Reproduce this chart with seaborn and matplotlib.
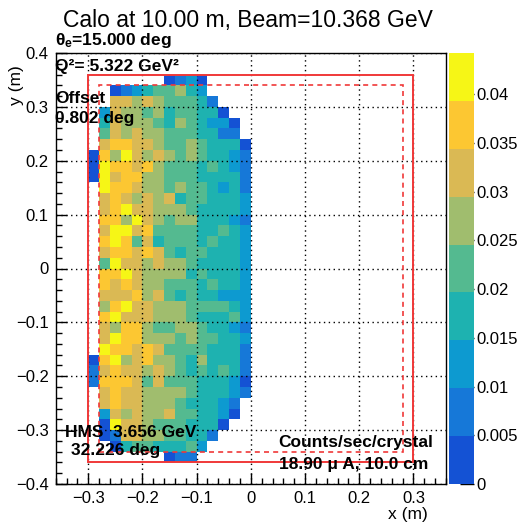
import numpy as np
import pandas as pd
import matplotlib
matplotlib.use("Agg")
import matplotlib.pyplot as plt
from matplotlib.colors import ListedColormap
from matplotlib.patches import Rectangle
from matplotlib.ticker import MultipleLocator
import seaborn as sns

sns.set_style("white")
plt.rcParams['font.family'] = ['Liberation Sans', 'DejaVu Sans']
plt.rcParams['mathtext.fontset'] = 'custom'
plt.rcParams['mathtext.rm'] = 'Liberation Sans'
plt.rcParams['mathtext.bf'] = 'Liberation Sans:bold'
plt.rcParams['mathtext.default'] = 'regular'
plt.rcParams['axes.unicode_minus'] = True
plt.rcParams['text.color'] = 'black'
plt.rcParams['axes.labelcolor'] = 'black'
plt.rcParams['xtick.color'] = 'black'
plt.rcParams['ytick.color'] = 'black'

# ---------------- data ----------------
title = "Calo at 10.00 m, Beam=10.368 GeV"
x_label = "x (m)"
y_label = "y (m)"
x_ticks = [-0.3, -0.2, -0.1, 0.0, 0.1, 0.2, 0.3]
x_tick_labels = ["\u22120.3", "\u22120.2", "\u22120.1", "0", "0.1", "0.2", "0.3"]
y_ticks = [-0.4, -0.3, -0.2, -0.1, 0.0, 0.1, 0.2, 0.3, 0.4]
y_tick_labels = ["\u22120.4", "\u22120.3", "\u22120.2", "\u22120.1", "0", "0.1", "0.2", "0.3", "0.4"]
cbar_ticks = [0, 0.005, 0.01, 0.015, 0.02, 0.025, 0.03, 0.035, 0.04]
cbar_tick_labels = ["0", "0.005", "0.01", "0.015", "0.02", "0.025", "0.03", "0.035", "0.04"]
z_max = 0.04425

# crystal grid: 15 columns (x = -0.29 .. -0.01), 36 rows (y = +0.35 .. -0.35)
n_cols = 15
n_rows = 36
crystal_size = 0.02
x_range = (-0.30, 0.0)
y_range = (-0.36, 0.36)

# rates in units of 1e-3 counts/sec/crystal, row by row from top to bottom
rates_milli = [
    [0, 0, 0, 0, 0, 0, 0, 2.5, 7.4, 12.3, 2.5, 0, 0, 0, 0],
    [0, 0, 2.5, 7.4, 12.3, 17.2, 22.1, 22.1, 27.0, 17.2, 12.3, 0, 0, 0, 0],
    [0, 0, 32.0, 32.0, 27.0, 32.0, 27.0, 22.1, 22.1, 22.1, 17.2, 7.4, 0, 0, 0],
    [0, 12.3, 32.0, 27.0, 27.0, 22.1, 27.0, 17.2, 22.1, 22.1, 17.2, 17.2, 2.5, 0, 0],
    [0, 17.2, 32.0, 27.0, 27.0, 27.0, 22.1, 17.2, 27.0, 22.1, 17.2, 12.3, 12.3, 2.5, 0],
    [0, 22.1, 32.0, 27.0, 32.0, 27.0, 27.0, 22.1, 22.1, 22.1, 17.2, 17.2, 7.4, 7.4, 0],
    [0, 32.0, 36.9, 36.9, 32.0, 32.0, 27.0, 22.1, 22.1, 27.0, 22.1, 17.2, 17.2, 17.2, 2.5],
    [2.5, 36.9, 27.0, 41.8, 32.0, 27.0, 32.0, 27.0, 22.1, 27.0, 22.1, 17.2, 17.2, 12.3, 7.4],
    [2.5, 41.8, 36.9, 36.9, 32.0, 36.9, 27.0, 22.1, 22.1, 22.1, 17.2, 22.1, 17.2, 12.3, 7.4],
    [2.5, 41.8, 32.0, 36.9, 36.9, 27.0, 27.0, 22.1, 22.1, 22.1, 17.2, 17.2, 17.2, 17.2, 7.4],
    [0, 41.8, 36.9, 36.9, 32.0, 27.0, 27.0, 22.1, 27.0, 22.1, 22.1, 17.2, 12.3, 17.2, 7.4],
    [0, 32.0, 36.9, 32.0, 27.0, 32.0, 27.0, 32.0, 17.2, 22.1, 22.1, 17.2, 17.2, 17.2, 12.3],
    [0, 32.0, 36.9, 41.8, 32.0, 32.0, 27.0, 27.0, 27.0, 22.1, 17.2, 17.2, 17.2, 17.2, 12.3],
    [0, 36.9, 36.9, 27.0, 41.8, 32.0, 27.0, 22.1, 27.0, 27.0, 17.2, 17.2, 17.2, 12.3, 7.4],
    [0, 32.0, 41.8, 41.8, 32.0, 36.9, 22.1, 22.1, 22.1, 22.1, 17.2, 17.2, 22.1, 17.2, 12.3],
    [0, 36.9, 41.8, 36.9, 22.1, 32.0, 17.2, 22.1, 22.1, 22.1, 17.2, 22.1, 17.2, 17.2, 12.3],
    [0, 32.0, 36.9, 36.9, 32.0, 36.9, 32.0, 22.1, 17.2, 22.1, 22.1, 17.2, 17.2, 17.2, 12.3],
    [0, 22.1, 41.8, 32.0, 32.0, 27.0, 32.0, 27.0, 27.0, 22.1, 17.2, 17.2, 17.2, 17.2, 12.3],
    [0, 36.9, 36.9, 41.8, 32.0, 27.0, 27.0, 27.0, 27.0, 17.2, 22.1, 17.2, 17.2, 17.2, 12.3],
    [0, 36.9, 32.0, 36.9, 32.0, 27.0, 27.0, 22.1, 22.1, 22.1, 17.2, 22.1, 17.2, 17.2, 12.3],
    [0, 32.0, 32.0, 32.0, 36.9, 27.0, 32.0, 22.1, 17.2, 22.1, 17.2, 17.2, 12.3, 12.3, 12.3],
    [0, 27.0, 36.9, 41.8, 32.0, 32.0, 27.0, 27.0, 27.0, 22.1, 22.1, 22.1, 22.1, 17.2, 12.3],
    [0, 36.9, 41.8, 32.0, 32.0, 32.0, 27.0, 27.0, 27.0, 22.1, 17.2, 17.2, 17.2, 22.1, 12.3],
    [0, 32.0, 27.0, 36.9, 36.9, 27.0, 22.1, 22.1, 27.0, 27.0, 22.1, 17.2, 17.2, 12.3, 7.4],
    [0, 32.0, 41.8, 36.9, 36.9, 27.0, 27.0, 27.0, 22.1, 27.0, 22.1, 22.1, 17.2, 17.2, 12.3],
    [0, 41.8, 36.9, 36.9, 32.0, 36.9, 32.0, 22.1, 22.1, 22.1, 22.1, 17.2, 17.2, 17.2, 7.4],
    [2.5, 36.9, 41.8, 27.0, 32.0, 36.9, 27.0, 27.0, 22.1, 17.2, 27.0, 17.2, 17.2, 17.2, 7.4],
    [7.4, 32.0, 36.9, 32.0, 32.0, 27.0, 32.0, 27.0, 22.1, 17.2, 22.1, 17.2, 22.1, 17.2, 7.4],
    [7.4, 36.9, 36.9, 36.9, 32.0, 22.1, 32.0, 22.1, 22.1, 22.1, 17.2, 17.2, 17.2, 12.3, 2.5],
    [0, 32.0, 36.9, 32.0, 32.0, 27.0, 27.0, 27.0, 27.0, 22.1, 17.2, 17.2, 17.2, 12.3, 7.4],
    [0, 32.0, 36.9, 32.0, 32.0, 27.0, 27.0, 27.0, 22.1, 17.2, 17.2, 17.2, 12.3, 7.4, 0],
    [0, 12.3, 32.0, 27.0, 32.0, 27.0, 27.0, 32.0, 22.1, 22.1, 17.2, 17.2, 12.3, 2.5, 0],
    [0, 2.5, 41.8, 32.0, 32.0, 27.0, 22.1, 22.1, 22.1, 17.2, 17.2, 17.2, 2.5, 0, 0],
    [0, 2.5, 7.4, 32.0, 32.0, 27.0, 27.0, 22.1, 22.1, 17.2, 17.2, 7.4, 0, 0, 0],
    [0, 0, 2.5, 17.2, 22.1, 22.1, 17.2, 17.2, 17.2, 22.1, 12.3, 0, 0, 0, 0],
    [0, 0, 0, 0, 0, 0, 0, 2.5, 7.4, 7.4, 0, 0, 0, 0, 0],
]

outer_box = (-0.30, -0.36, 0.60, 0.72)   # x0, y0, width, height
inner_box = (-0.28, -0.34, 0.56, 0.68)

palette_colors = ["#1452d4", "#1678d8", "#0d9ad0", "#1eb2b0", "#54ba90",
                  "#a0bd6e", "#dab954", "#fcc732", "#f6f616"]

# ---------------- build table ----------------
x_centers = np.round(x_range[0] + crystal_size * (np.arange(n_cols) + 0.5), 4)
y_centers = np.round(y_range[1] - crystal_size * (np.arange(n_rows) + 0.5), 4)
rows = []
for j, row in enumerate(rates_milli):
    for k, v in enumerate(row):
        if v > 0:
            rows.append((x_centers[k], y_centers[j], v * 1e-3))
df = pd.DataFrame(rows, columns=["x", "y", "rate"])

# ---------------- figure ----------------
W, H = 521, 523
fig = plt.figure(figsize=(W / 100, H / 100), dpi=100)
fig.patch.set_facecolor("white")


def fx(px):
    return px / W


def fy(py):
    return 1 - py / H


ax = fig.add_axes([fx(55.7), fy(484), (446 - 55.7) / W, (484 - 53) / H])
cax = fig.add_axes([fx(449), fy(484), 25 / W, (484 - 53) / H])

cmap = ListedColormap(palette_colors)
sns.histplot(data=df, x="x", y="y", weights="rate",
             bins=(n_cols, n_rows), binrange=(x_range, y_range),
             cmap=cmap, vmin=0, vmax=z_max, cbar=True, cbar_ax=cax, ax=ax,
             zorder=1)

ax.set_xlim(-0.36, 0.36)
ax.set_ylim(-0.4, 0.4)
ax.set_xlabel("")
ax.set_ylabel("")

ax.add_patch(Rectangle(outer_box[:2], outer_box[2], outer_box[3], fill=False,
                       edgecolor="#f03838", linewidth=1.4, zorder=4))
ax.add_patch(Rectangle(inner_box[:2], inner_box[2], inner_box[3], fill=False,
                       edgecolor="#f03838", linewidth=1.2, linestyle=(0, (3, 2.5)),
                       zorder=4))

ax.set_xticks(x_ticks, x_tick_labels)
ax.set_yticks(y_ticks, y_tick_labels)
ax.xaxis.set_minor_locator(MultipleLocator(0.02))
ax.yaxis.set_minor_locator(MultipleLocator(0.02))
ax.tick_params(which="both", direction="in", bottom=True, left=True,
               top=False, right=False, colors="black", width=1)
ax.tick_params(which="major", length=8, labelsize=12, pad=5)
ax.tick_params(which="minor", length=4)
ax.tick_params(axis="x", which="major", pad=5)
ax.grid(True, which="major", color="black", linestyle=(0, (1, 2.5)), linewidth=1.0)
ax.set_axisbelow(False)
for g in ax.get_xgridlines() + ax.get_ygridlines():
    g.set_zorder(3)
for s in ax.spines.values():
    s.set_visible(True)
    s.set_color("black")
    s.set_linewidth(1.0)
    s.set_zorder(5)

cbar = ax.collections[0].colorbar
cbar.outline.set_visible(False)
cbar.set_ticks(cbar_ticks, labels=cbar_tick_labels)
cax.tick_params(direction="in", length=10, width=1, labelsize=12, pad=2,
                right=True, left=False, colors="black")

# ---------------- texts ----------------
fig.text(fx(248), fy(27), title, ha="center", va="baseline", fontsize=16.5,
         color="black")
bold = dict(fontweight="bold", fontsize=12.5, va="baseline", ha="left", color="black")
fig.text(fx(55), fy(45), r"$\theta_{e}$=15.000 deg", **bold)
fig.text(fx(55), fy(71.5), "Q\u00b2= 5.322 GeV\u00b2", **bold)
fig.text(fx(55), fy(103), "Offset", **bold)
fig.text(fx(55), fy(123), "0.802 deg", **bold)
fig.text(fx(65), fy(437), "HMS  3.656 GeV", **bold)
fig.text(fx(71), fy(455), "32.226 deg", **bold)
fig.text(fx(278), fy(446.5), "Counts/sec/crystal", **bold)
fig.text(fx(279), fy(469), "18.90 \u03bc A, 10.0 cm", **bold)
fig.text(fx(428), fy(519.5), x_label, ha="right", va="baseline", fontsize=12.5,
         color="black")
fig.text(fx(16), fy(65), y_label, ha="center", va="top", rotation=90, fontsize=12.5,
         color="black")

fig.savefig("out.png", dpi=100, facecolor="white")
